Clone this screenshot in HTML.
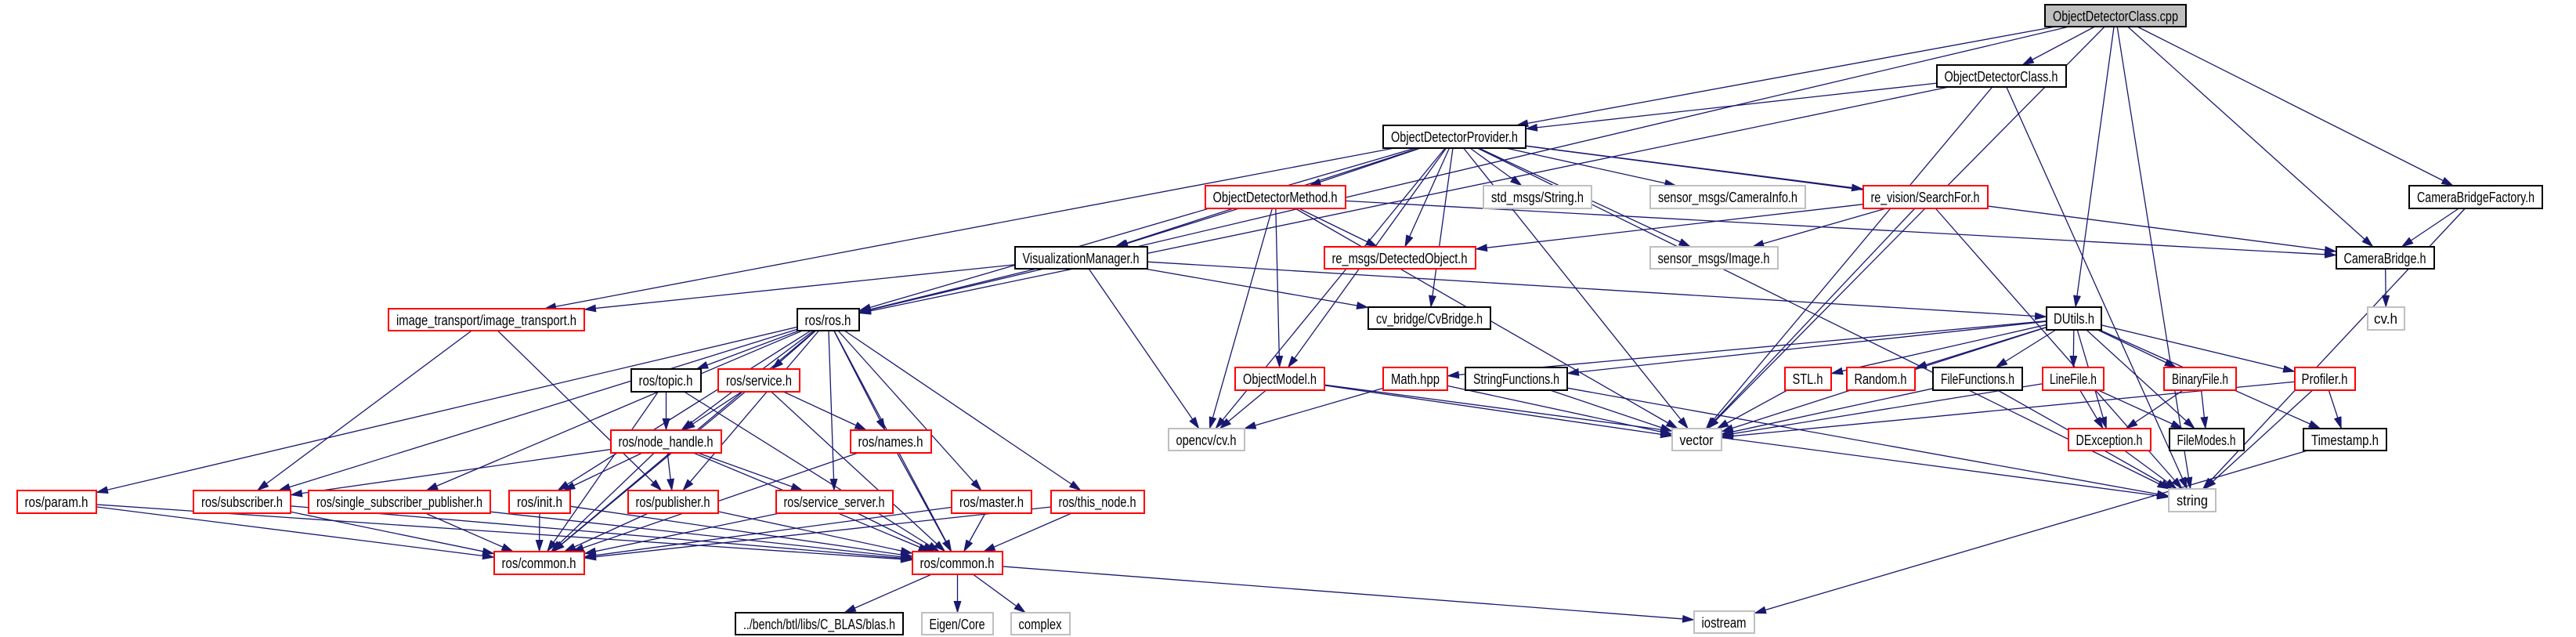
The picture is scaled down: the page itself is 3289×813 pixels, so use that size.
<!DOCTYPE html>
<html><head><meta charset="utf-8"><style>
html,body{margin:0;padding:0;background:#fff;}
svg{display:block;}
text{font-family:"Liberation Sans",sans-serif;font-size:18px;fill:#000;}
</style></head><body>
<svg id="s" width="3289" height="813" viewBox="0 0 3289 813" xmlns="http://www.w3.org/2000/svg">
<defs><marker id="a" markerWidth="16" markerHeight="10" refX="15" refY="5" orient="auto" markerUnits="userSpaceOnUse"><path d="M0,0 L16,5 L0,10 z" fill="#191970"/></marker></defs>
<g id="edges" fill="none" stroke="#191970" stroke-width="1.3"></g>
<g id="nodes" stroke-width="2">
<rect id="cpp" x="2611" y="6" width="180" height="28" fill="#bfbfbf" stroke="#000"/><text x="2701" y="27" text-anchor="middle" textLength="160" lengthAdjust="spacingAndGlyphs">ObjectDetectorClass.cpp</text>
<rect id="odch" x="2473" y="83" width="165" height="28" fill="#fff" stroke="#000"/><text x="2555" y="104" text-anchor="middle" textLength="145" lengthAdjust="spacingAndGlyphs">ObjectDetectorClass.h</text>
<rect id="odp" x="1766" y="160" width="182" height="29" fill="#fff" stroke="#000"/><text x="1857" y="181" text-anchor="middle" textLength="162" lengthAdjust="spacingAndGlyphs">ObjectDetectorProvider.h</text>
<rect id="odm" x="1539" y="237" width="179" height="29" fill="#fff" stroke="#f00"/><text x="1628" y="258" text-anchor="middle" textLength="159" lengthAdjust="spacingAndGlyphs">ObjectDetectorMethod.h</text>
<rect id="str" x="1894" y="237" width="138" height="29" fill="#fff" stroke="#bfbfbf"/><text x="1963" y="258" text-anchor="middle" textLength="118" lengthAdjust="spacingAndGlyphs">std_msgs/String.h</text>
<rect id="caminfo" x="2107" y="237" width="198" height="29" fill="#fff" stroke="#bfbfbf"/><text x="2206" y="258" text-anchor="middle" textLength="178" lengthAdjust="spacingAndGlyphs">sensor_msgs/CameraInfo.h</text>
<rect id="search" x="2379" y="237" width="159" height="29" fill="#fff" stroke="#f00"/><text x="2458" y="258" text-anchor="middle" textLength="139" lengthAdjust="spacingAndGlyphs">re_vision/SearchFor.h</text>
<rect id="cbf" x="3076" y="237" width="170" height="29" fill="#fff" stroke="#000"/><text x="3161" y="258" text-anchor="middle" textLength="150" lengthAdjust="spacingAndGlyphs">CameraBridgeFactory.h</text>
<rect id="viz" x="1296" y="315" width="169" height="28" fill="#fff" stroke="#000"/><text x="1380" y="336" text-anchor="middle" textLength="149" lengthAdjust="spacingAndGlyphs">VisualizationManager.h</text>
<rect id="det" x="1691" y="315" width="193" height="28" fill="#fff" stroke="#f00"/><text x="1787" y="336" text-anchor="middle" textLength="173" lengthAdjust="spacingAndGlyphs">re_msgs/DetectedObject.h</text>
<rect id="img" x="2107" y="315" width="163" height="28" fill="#fff" stroke="#bfbfbf"/><text x="2188" y="336" text-anchor="middle" textLength="143" lengthAdjust="spacingAndGlyphs">sensor_msgs/Image.h</text>
<rect id="cb" x="2983" y="315" width="125" height="28" fill="#fff" stroke="#000"/><text x="3045" y="336" text-anchor="middle" textLength="105" lengthAdjust="spacingAndGlyphs">CameraBridge.h</text>
<rect id="it" x="496" y="394" width="250" height="28" fill="#fff" stroke="#f00"/><text x="621" y="415" text-anchor="middle" textLength="230" lengthAdjust="spacingAndGlyphs">image_transport/image_transport.h</text>
<rect id="ros" x="1018" y="394" width="79" height="28" fill="#fff" stroke="#000"/><text x="1057" y="415" text-anchor="middle" textLength="59" lengthAdjust="spacingAndGlyphs">ros/ros.h</text>
<rect id="cvb" x="1747" y="392" width="156" height="28" fill="#fff" stroke="#000"/><text x="1825" y="413" text-anchor="middle" textLength="136" lengthAdjust="spacingAndGlyphs">cv_bridge/CvBridge.h</text>
<rect id="dutils" x="2613" y="392" width="70" height="29" fill="#fff" stroke="#000"/><text x="2648" y="413" text-anchor="middle" textLength="52" lengthAdjust="spacingAndGlyphs">DUtils.h</text>
<rect id="cvh" x="3023" y="392" width="47" height="29" fill="#fff" stroke="#bfbfbf"/><text x="3046" y="413" text-anchor="middle" textLength="30" lengthAdjust="spacingAndGlyphs">cv.h</text>
<rect id="topic" x="806" y="471" width="89" height="29" fill="#fff" stroke="#000"/><text x="850" y="492" text-anchor="middle" textLength="69" lengthAdjust="spacingAndGlyphs">ros/topic.h</text>
<rect id="service" x="917" y="471" width="104" height="29" fill="#fff" stroke="#f00"/><text x="969" y="492" text-anchor="middle" textLength="84" lengthAdjust="spacingAndGlyphs">ros/service.h</text>
<rect id="om" x="1577" y="469" width="114" height="29" fill="#fff" stroke="#f00"/><text x="1634" y="490" text-anchor="middle" textLength="94" lengthAdjust="spacingAndGlyphs">ObjectModel.h</text>
<rect id="math" x="1766" y="469" width="82" height="29" fill="#fff" stroke="#f00"/><text x="1807" y="490" text-anchor="middle" textLength="62" lengthAdjust="spacingAndGlyphs">Math.hpp</text>
<rect id="sf" x="1871" y="469" width="130" height="29" fill="#fff" stroke="#000"/><text x="1936" y="490" text-anchor="middle" textLength="110" lengthAdjust="spacingAndGlyphs">StringFunctions.h</text>
<rect id="stl" x="2279" y="469" width="59" height="29" fill="#fff" stroke="#f00"/><text x="2308" y="490" text-anchor="middle" textLength="39" lengthAdjust="spacingAndGlyphs">STL.h</text>
<rect id="random" x="2358" y="469" width="87" height="29" fill="#fff" stroke="#f00"/><text x="2401" y="490" text-anchor="middle" textLength="67" lengthAdjust="spacingAndGlyphs">Random.h</text>
<rect id="ff" x="2468" y="469" width="114" height="29" fill="#fff" stroke="#000"/><text x="2525" y="490" text-anchor="middle" textLength="94" lengthAdjust="spacingAndGlyphs">FileFunctions.h</text>
<rect id="lf" x="2608" y="469" width="78" height="29" fill="#fff" stroke="#f00"/><text x="2647" y="490" text-anchor="middle" textLength="60" lengthAdjust="spacingAndGlyphs">LineFile.h</text>
<rect id="bf" x="2763" y="469" width="92" height="29" fill="#fff" stroke="#f00"/><text x="2809" y="490" text-anchor="middle" textLength="72" lengthAdjust="spacingAndGlyphs">BinaryFile.h</text>
<rect id="prof" x="2930" y="469" width="77" height="29" fill="#fff" stroke="#f00"/><text x="2968" y="490" text-anchor="middle" textLength="59" lengthAdjust="spacingAndGlyphs">Profiler.h</text>
<rect id="nh" x="780" y="549" width="141" height="29" fill="#fff" stroke="#f00"/><text x="850" y="570" text-anchor="middle" textLength="121" lengthAdjust="spacingAndGlyphs">ros/node_handle.h</text>
<rect id="names" x="1086" y="549" width="103" height="29" fill="#fff" stroke="#f00"/><text x="1137" y="570" text-anchor="middle" textLength="83" lengthAdjust="spacingAndGlyphs">ros/names.h</text>
<rect id="opencv" x="1492" y="547" width="97" height="28" fill="#fff" stroke="#bfbfbf"/><text x="1540" y="568" text-anchor="middle" textLength="77" lengthAdjust="spacingAndGlyphs">opencv/cv.h</text>
<rect id="vector" x="2135" y="547" width="63" height="28" fill="#fff" stroke="#bfbfbf"/><text x="2166" y="568" text-anchor="middle" textLength="43" lengthAdjust="spacingAndGlyphs">vector</text>
<rect id="dex" x="2641" y="547" width="105" height="28" fill="#fff" stroke="#f00"/><text x="2693" y="568" text-anchor="middle" textLength="85" lengthAdjust="spacingAndGlyphs">DException.h</text>
<rect id="fm" x="2770" y="547" width="95" height="28" fill="#fff" stroke="#000"/><text x="2817" y="568" text-anchor="middle" textLength="75" lengthAdjust="spacingAndGlyphs">FileModes.h</text>
<rect id="ts" x="2941" y="547" width="106" height="28" fill="#fff" stroke="#000"/><text x="2994" y="568" text-anchor="middle" textLength="86" lengthAdjust="spacingAndGlyphs">Timestamp.h</text>
<rect id="param" x="22" y="626" width="101" height="29" fill="#fff" stroke="#f00"/><text x="72" y="647" text-anchor="middle" textLength="81" lengthAdjust="spacingAndGlyphs">ros/param.h</text>
<rect id="sub" x="247" y="626" width="124" height="29" fill="#fff" stroke="#f00"/><text x="309" y="647" text-anchor="middle" textLength="104" lengthAdjust="spacingAndGlyphs">ros/subscriber.h</text>
<rect id="ssp" x="394" y="626" width="232" height="29" fill="#fff" stroke="#f00"/><text x="510" y="647" text-anchor="middle" textLength="212" lengthAdjust="spacingAndGlyphs">ros/single_subscriber_publisher.h</text>
<rect id="init" x="650" y="626" width="78" height="29" fill="#fff" stroke="#f00"/><text x="689" y="647" text-anchor="middle" textLength="58" lengthAdjust="spacingAndGlyphs">ros/init.h</text>
<rect id="pub" x="802" y="626" width="115" height="29" fill="#fff" stroke="#f00"/><text x="859" y="647" text-anchor="middle" textLength="95" lengthAdjust="spacingAndGlyphs">ros/publisher.h</text>
<rect id="ss" x="991" y="626" width="149" height="29" fill="#fff" stroke="#f00"/><text x="1065" y="647" text-anchor="middle" textLength="129" lengthAdjust="spacingAndGlyphs">ros/service_server.h</text>
<rect id="master" x="1215" y="626" width="102" height="29" fill="#fff" stroke="#f00"/><text x="1266" y="647" text-anchor="middle" textLength="82" lengthAdjust="spacingAndGlyphs">ros/master.h</text>
<rect id="this" x="1342" y="626" width="119" height="29" fill="#fff" stroke="#f00"/><text x="1401" y="647" text-anchor="middle" textLength="99" lengthAdjust="spacingAndGlyphs">ros/this_node.h</text>
<rect id="string" x="2769" y="624" width="60" height="29" fill="#fff" stroke="#bfbfbf"/><text x="2799" y="645" text-anchor="middle" textLength="40" lengthAdjust="spacingAndGlyphs">string</text>
<rect id="c1" x="631" y="704" width="115" height="29" fill="#fff" stroke="#f00"/><text x="688" y="725" text-anchor="middle" textLength="95" lengthAdjust="spacingAndGlyphs">ros/common.h</text>
<rect id="c2" x="1165" y="704" width="115" height="29" fill="#fff" stroke="#f00"/><text x="1222" y="725" text-anchor="middle" textLength="95" lengthAdjust="spacingAndGlyphs">ros/common.h</text>
<rect id="blas" x="939" y="782" width="214" height="28" fill="#fff" stroke="#000"/><text x="1046" y="803" text-anchor="middle" textLength="194" lengthAdjust="spacingAndGlyphs">../bench/btl/libs/C_BLAS/blas.h</text>
<rect id="eigen" x="1177" y="782" width="91" height="28" fill="#fff" stroke="#bfbfbf"/><text x="1222" y="803" text-anchor="middle" textLength="71" lengthAdjust="spacingAndGlyphs">Eigen/Core</text>
<rect id="complex" x="1291" y="782" width="75" height="28" fill="#fff" stroke="#bfbfbf"/><text x="1328" y="803" text-anchor="middle" textLength="55" lengthAdjust="spacingAndGlyphs">complex</text>
<rect id="iostream" x="2163" y="780" width="77" height="28" fill="#fff" stroke="#bfbfbf"/><text x="2201" y="801" text-anchor="middle" textLength="57" lengthAdjust="spacingAndGlyphs">iostream</text>
</g>
</svg>
<script>
var E="cpp odch,cpp odp,cpp ros,cpp dutils,cpp cb,cpp cbf,cpp string,cpp vector,odch odp,odch ros,odch vector,odch string,odp odm,odp str,odp caminfo,odp search,odp cb,odp det,odp cvb,odp viz,odp ros,odp it,odp opencv,odp om,odp vector,odp string,odp img,odm viz,odm det,odm om,odm opencv,odm vector,odm cb,search det,search img,search vector,search string,viz it,viz ros,viz cvb,viz dutils,viz opencv,cbf cb,cbf string,cb cvh,it sub,it pub,ros topic,ros service,ros nh,ros names,ros param,ros sub,ros ssp,ros init,ros pub,ros ss,ros master,ros this,ros c1,ros c2,topic nh,topic c1,topic c2,service nh,service names,service c1,service c2,nh sub,nh init,nh pub,nh ss,nh c1,nh c2,names c1,names c2,param c1,param c2,sub c1,sub c2,ssp c1,ssp c2,init c1,init c2,pub c1,pub c2,ss c1,ss c2,master c1,master c2,this c1,this c2,c2 blas,c2 eigen,c2 complex,c2 iostream,om opencv,om vector,om string,math opencv,math vector,sf vector,sf string,dutils math,dutils sf,dutils stl,dutils random,dutils ff,dutils lf,dutils bf,dutils prof,dutils dex,dutils fm,dutils ts,dutils vector,stl vector,ff vector,ff string,lf vector,lf dex,lf fm,bf dex,bf fm,prof vector,prof ts,prof string,dex string,ts iostream".split(",");
function R(id){var r=document.getElementById(id);var x=+r.getAttribute("x"),y=+r.getAttribute("y"),w=+r.getAttribute("width"),h=+r.getAttribute("height");return {cx:x+w/2,cy:y+h/2,hw:w/2,hh:h/2};}
function clip(b,dx,dy){var tx=dx?b.hw/Math.abs(dx):1e9,ty=dy?b.hh/Math.abs(dy):1e9,t=Math.min(tx,ty);return [b.cx+dx*t,b.cy+dy*t];}
var g=document.getElementById("edges"),ns="http://www.w3.org/2000/svg";
E.forEach(function(e){var p=e.split(" "),a=R(p[0]),b=R(p[1]);var dx=b.cx-a.cx,dy=b.cy-a.cy;
var s=clip(a,dx,dy),t=clip(b,-dx,-dy);
var l=document.createElementNS(ns,"path");l.setAttribute("d","M"+s[0]+","+s[1]+" L"+t[0]+","+t[1]);l.setAttribute("marker-end","url(#a)");g.appendChild(l);});
</script>
</body></html>
